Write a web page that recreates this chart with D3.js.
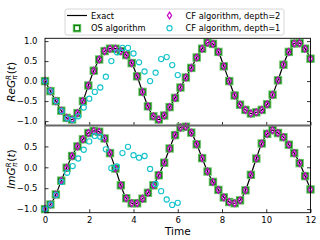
<!DOCTYPE html>
<html><head><meta charset="utf-8">
<script src="https://cdn.jsdelivr.net/npm/d3@7"></script>
<style>html,body{margin:0;padding:0;background:#fff;} svg{display:block;font-family:"DejaVu Sans",sans-serif;}</style>
</head><body><svg id="c" width="320" height="240"></svg>
<script>
// time grid of the exact / OS / CF depth=2 series
const timeExact = [0,0.245,0.49,0.735,0.98,1.224,1.469,1.714,1.959,2.204,2.449,2.694,2.939,3.184,3.429,3.673,3.918,4.163,4.408,4.653,4.898,5.143,5.388,5.633,5.878,6.122,6.367,6.612,6.857,7.102,7.347,7.592,7.837,8.082,8.327,8.571,8.816,9.061,9.306,9.551,9.796,10.041,10.286,10.531,10.776,11.020,11.265,11.510,11.755,12];
const exactRe = [0.00,-0.25,-0.50,-0.74,-0.92,-0.96,-0.80,-0.50,-0.11,0.26,0.54,0.75,0.81,0.81,0.75,0.65,0.45,0.12,-0.27,-0.63,-0.88,-0.96,-0.86,-0.65,-0.42,-0.16,0.09,0.33,0.59,0.81,0.96,0.93,0.73,0.37,0.00,-0.36,-0.59,-0.72,-0.81,-0.78,-0.72,-0.58,-0.34,0.02,0.41,0.73,0.94,0.95,0.81,0.56];
const exactIm = [-1.00,-0.89,-0.65,-0.32,-0.01,0.27,0.50,0.67,0.82,0.87,0.85,0.69,0.34,-0.03,-0.43,-0.74,-0.86,-0.86,-0.75,-0.61,-0.43,-0.19,0.11,0.45,0.77,0.95,0.97,0.83,0.55,0.22,-0.10,-0.35,-0.54,-0.72,-0.83,-0.86,-0.79,-0.55,-0.18,0.21,0.57,0.80,0.89,0.82,0.72,0.54,0.34,0.10,-0.21,-0.53];
// OS algorithm and CF depth=2 coincide with the exact values in the picture
const osRe = exactRe.slice(), osIm = exactIm.slice();
const cf2Re = exactRe.slice(), cf2Im = exactIm.slice();
// CF algorithm, depth=1
const timeCF1 = [0,0.25,0.5,0.75,1,1.25,1.5,1.75,2,2.25,2.5,2.75,3,3.25,3.5,3.75,4,4.25,4.5,4.75,5,5.25,5.5,5.75,6];
const cf1Re = [0.00,-0.25,-0.50,-0.75,-0.93,-0.97,-0.88,-0.66,-0.44,-0.27,-0.16,0.11,0.50,0.72,0.83,0.83,0.69,0.47,0.24,0.00,0.21,0.55,0.60,0.40,0.15];
const cf1Im = [-1.00,-0.89,-0.66,-0.35,-0.13,0.03,0.21,0.42,0.62,0.75,0.73,0.43,-0.02,0.02,0.34,0.49,0.29,0.23,0.27,-0.04,-0.40,-0.57,-0.77,-0.90,-0.85];
const xTicks = [0,2,4,6,8,10,12];
const yTicksTop = [-1,-0.5,0,0.5,1];
const yTicksBottom = [-1,-0.5,0,0.5];
const legendLabels = ["Exact","OS algorithm","CF algorithm, depth=2","CF algorithm, depth=1"];

const svg = d3.select("#c");
const L = 45, R = 310.5, T1 = 38.3, M = 125.5, B2 = 212.7;
const x = d3.scaleLinear([0,12],[L,R]);
const yTop = d3.scaleLinear([-1.11,1.07],[M,T1]);
const yBot = d3.scaleLinear([-1.086,1.0],[B2,M]);
const fmt = d => d3.format(".1f")(d).replace("-", "\u2212");

const GREEN_OUT = "#62c062", GREEN_IN = "#0e7d0e", MAG = "#c800c8", CYAN = "#12c3cc";
const diamondPath = "M0,-3.4L2.1,0L0,3.4L-2.1,0Z";

function square(sel, cx, cy) {
  sel.append("rect").attr("x",cx-3).attr("y",cy-3).attr("width",6).attr("height",6)
    .attr("fill","none").attr("stroke",GREEN_OUT).attr("stroke-width",2.4);
  sel.append("rect").attr("x",cx-2.7).attr("y",cy-2.7).attr("width",5.4).attr("height",5.4)
    .attr("fill","none").attr("stroke",GREEN_IN).attr("stroke-width",1.0);
}

function drawPanel(y, yTicks, re, cf1, os, cf2, top) {
  const g = svg.append("g");
  const al = g.append("g").attr("transform",`translate(${L},0)`)
    .call(d3.axisLeft(y).tickValues(yTicks).tickSize(-3.5).tickPadding(7.5).tickFormat(fmt));
  const ar = g.append("g").attr("transform",`translate(${R},0)`)
    .call(d3.axisRight(y).tickValues(yTicks).tickSize(-3.5).tickFormat(""));
  const ab = g.append("g").attr("transform",`translate(0,${top?M:B2})`)
    .call(d3.axisBottom(x).tickValues(xTicks).tickSize(-3.5).tickPadding(4).tickFormat(top?"":(d=>d)));
  [al,ar,ab].forEach(a=>{
    a.select(".domain").remove();
    a.selectAll("line").attr("stroke","#000").attr("stroke-width",0.8);
    a.selectAll("text").attr("font-family","DejaVu Sans").attr("font-size",8.5).attr("fill","#000");
  });
  g.append("path").datum(re).attr("fill","none").attr("stroke","#000").attr("stroke-width",1.2)
    .attr("d", d3.line().x((d,i)=>x(timeExact[i])).y(d=>y(d)).curve(d3.curveCatmullRom.alpha(0.5)));
  const sq = g.append("g");
  os.forEach((d,i)=>square(sq, x(timeExact[i]), y(d)));
  g.selectAll(".cf2").data(cf2).join("path")
    .attr("transform",(d,i)=>`translate(${x(timeExact[i])},${y(d)})`).attr("d",diamondPath)
    .attr("fill","none").attr("stroke",MAG).attr("stroke-width",1.2);
  g.selectAll(".cf1").data(cf1).join("circle")
    .attr("cx",(d,i)=>x(timeCF1[i])).attr("cy",d=>y(d)).attr("r",2.6)
    .attr("fill","none").attr("stroke",CYAN).attr("stroke-width",1.1);
}
drawPanel(yTop, yTicksTop, exactRe, cf1Re, osRe, cf2Re, true);
drawPanel(yBot, yTicksBottom, exactIm, cf1Im, osIm, cf2Im, false);

svg.append("rect").attr("x",L).attr("y",T1).attr("width",R-L).attr("height",B2-T1)
  .attr("fill","none").attr("stroke","#000").attr("stroke-width",0.9);
svg.append("line").attr("x1",L).attr("x2",R).attr("y1",M).attr("y2",M)
  .attr("stroke","#666").attr("stroke-width",1.8);

svg.append("text").attr("x",(L+R)/2).attr("y",235).attr("text-anchor","middle")
  .attr("font-size",10.5).text("Time");

function ylabel(cy, pre) {
  const t = svg.append("text").attr("transform",`translate(15,${cy}) rotate(-90)`)
    .attr("text-anchor","middle").attr("font-size",10.5).attr("font-style","italic");
  t.append("tspan").text(pre+"G");
  t.append("tspan").attr("font-size",7.3).attr("dy",-4.2).text("R");
  t.append("tspan").attr("font-size",7.3).attr("dx",-4.8).attr("dy",6.6).text("\u03c0");
  t.append("tspan").attr("font-style","normal").attr("dx",1).attr("dy",-2.4).text("(");
  t.append("tspan").text("t");
  t.append("tspan").attr("font-style","normal").text(")");
}
ylabel((T1+M)/2, "Re");
ylabel((M+B2)/2, "Im");

const lg = svg.append("g");
lg.append("rect").attr("x",65).attr("y",9).attr("width",219).attr("height",26).attr("rx",2)
  .attr("fill","#fff").attr("fill-opacity",0.8).attr("stroke","#cccccc").attr("stroke-width",0.8);
const r1 = 15.5, r2 = 28.2;
lg.append("line").attr("x1",67).attr("x2",87).attr("y1",r1).attr("y2",r1).attr("stroke","#000").attr("stroke-width",1.2);
square(lg, 77, r2);
lg.append("path").attr("transform",`translate(169.5,${r1})`).attr("d",diamondPath)
  .attr("fill","none").attr("stroke",MAG).attr("stroke-width",1.2);
lg.append("circle").attr("cx",169.5).attr("cy",r2).attr("r",2.6)
  .attr("fill","none").attr("stroke",CYAN).attr("stroke-width",1.1);
const lpos = [[91,r1],[91,r2],[185.5,r1],[185.5,r2]];
legendLabels.forEach((s,i)=>{
  lg.append("text").attr("x",lpos[i][0]).attr("y",lpos[i][1]+3).attr("font-size",8.3).text(s);
});
</script></body></html>
